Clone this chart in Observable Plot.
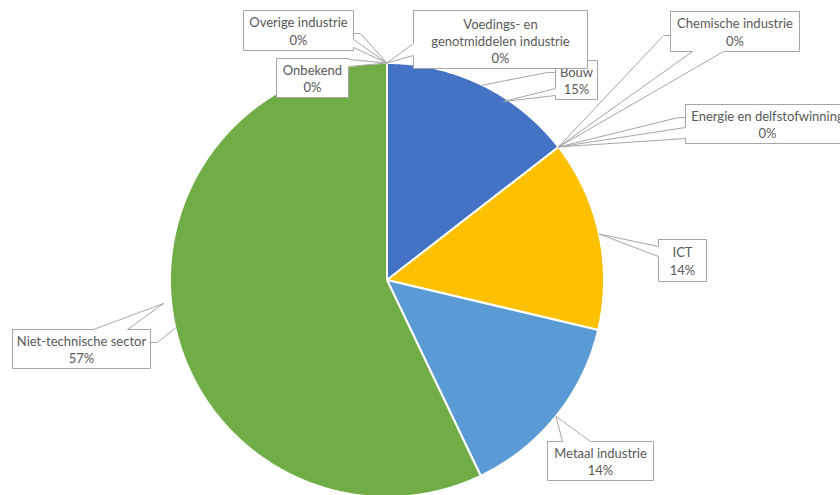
<!DOCTYPE html>
<html>
<head>
<meta charset="utf-8">
<script src="https://cdn.jsdelivr.net/npm/d3@7"></script>
<script src="https://cdn.jsdelivr.net/npm/@observablehq/plot@0.6"></script>
<style>
  html, body { margin: 0; padding: 0; background: #ffffff; }
  #chart { width: 840px; height: 495px; overflow: hidden; }
</style>
</head>
<body>
<div id="chart"></div>
<script>
// ---- data ----
const categories = [
  "Bouw",
  "Chemische industrie",
  "Energie en delfstofwinning",
  "ICT",
  "Metaal industrie",
  "Niet-technische sector",
  "Onbekend",
  "Overige industrie",
  "Voedings- en genotmiddelen industrie"
];
const shares = [14.5, 0, 0, 14.2, 14.2, 57.1, 0, 0, 0];
const labelTexts = [
  "Bouw",
  "Chemische industrie",
  "Energie en delfstofwinning",
  "ICT",
  "Metaal industrie",
  "Niet-technische sector",
  "Onbekend",
  "Overige industrie",
  "Voedings- en\ngenotmiddelen industrie"
];
const sliceColors = ["#4472C4", "#ED7D31", "#A5A5A5", "#FFC000", "#5B9BD5", "#70AD47", "#264478", "#9E480E", "#636363"];

// ---- layout (pixels) ----
const W = 840, H = 495;
const CX = 386.5, CY = 279.5, R = 217;
const FONT = "Lato, 'Liberation Sans', sans-serif";
const GRAY = "#A6A6A6";
// box: [x0, y0, x1, y1]; wedge: side, from, to, optional tip; leader: points after anchor
const layout = {
  "Bouw": {box: [555, 60, 597, 99], wedge: {side: "left", from: 88, to: 95, tip: [503, 101]}, leader: [[547, 72], [555, 72]]},
  "Chemische industrie": {box: [670, 11, 799, 51], wedge: {side: "bottom", from: 692, to: 723}, leader: [[663, 35], [670, 35]]},
  "Energie en delfstofwinning": {box: [685, 104, 850, 143], textX: 767, wedge: {side: "left", from: 127, to: 138}, leader: [[678, 117], [685, 117]]},
  "ICT": {box: [658, 239, 706, 281], wedge: {side: "left", from: 246, to: 256}},
  "Metaal industrie": {box: [547, 441, 653, 480], wedge: {side: "top", from: 562, to: 590}},
  "Niet-technische sector": {box: [12, 329, 150, 368], wedge: {side: "top", from: 93, to: 127, tip: [163, 303]}, leader: [[157, 342], [150, 342]]},
  "Onbekend": {box: [276, 58, 348, 97], wedge: {side: "right", from: 59, to: 66}},
  "Overige industrie": {box: [243, 10, 353, 50], wedge: {side: "right", from: 39, to: 47}, leader: [[360, 33], [353, 33]]},
  "Voedings- en genotmiddelen industrie": {box: [413, 10, 587, 68], textDY: 1, wedge: {side: "left", from: 43, to: 55}}
};

// ---- pie geometry from the shares ----
const total = d3.sum(shares);
const pt = (deg, r = R) => {
  const a = deg * Math.PI / 180;
  return [CX + r * Math.sin(a), CY - r * Math.cos(a)];
};
let cum = 0;
const slices = categories.map((name, i) => {
  const a0 = cum / total * 360;
  cum += shares[i];
  const a1 = cum / total * 360;
  return {name, share: shares[i], a0, a1, mid: (a0 + a1) / 2, color: sliceColors[i], text: labelTexts[i]};
});

// slice outlines: centre, sampled arc, centre
const slicePts = [];
for (const s of slices) {
  if (s.share <= 0) continue;
  const n = Math.max(2, Math.ceil((s.a1 - s.a0) / 0.25));
  slicePts.push({name: s.name, x: CX, y: CY});
  for (let k = 0; k <= n; k++) {
    const [x, y] = pt(s.a0 + (s.a1 - s.a0) * k / n);
    slicePts.push({name: s.name, x, y});
  }
  slicePts.push({name: s.name, x: CX, y: CY});
}

function calloutShape(s) {
  const L = layout[s.name];
  const [x0, y0, x1, y1] = L.box;
  const anchor = pt(s.mid);
  const w = L.wedge;
  const tip = w.tip || anchor;
  const P = [];
  P.push([x0, y0]);
  if (w.side === "top") P.push([w.from, y0], tip, [w.to, y0]);
  P.push([x1, y0]);
  if (w.side === "right") P.push([x1, w.from], tip, [x1, w.to]);
  P.push([x1, y1]);
  if (w.side === "bottom") P.push([w.to, y1], tip, [w.from, y1]);
  P.push([x0, y1]);
  if (w.side === "left") P.push([x0, w.to], tip, [x0, w.from]);
  P.push([x0, y0]);
  return P.map(([x, y]) => ({name: s.name, x, y}));
}

const marks = [];
marks.push(Plot.line(slicePts, {
  x: "x", y: "y", z: "name", fill: "name",
  stroke: "#ffffff", strokeWidth: 2, strokeLinejoin: "miter", curve: "linear"
}));

// leader lines
for (const s of slices) {
  const L = layout[s.name];
  if (!L.leader) continue;
  const pts = [pt(s.mid), ...L.leader].map(([x, y]) => ({x, y}));
  marks.push(Plot.line(pts, {x: "x", y: "y", stroke: GRAY, strokeWidth: 1, curve: "linear", strokeLinejoin: "miter"}));
}

// callout boxes with their labels, in series order
for (const s of slices) {
  const L = layout[s.name];
  const [x0, y0, x1, y1] = L.box;
  marks.push(Plot.line(calloutShape(s), {
    x: "x", y: "y", fill: "#ffffff", stroke: GRAY, strokeWidth: 1, curve: "linear", strokeLinejoin: "miter"
  }));
  marks.push(Plot.text([s], {
    x: () => L.textX ?? (x0 + x1) / 2,
    y: () => (y0 + y1) / 2 + (L.textDY || 0),
    text: d => d.text + "\n" + Math.round(d.share) + "%",
    fill: "#595959", fontSize: 13, lineHeight: 1.33, fontFamily: FONT
  }));
}

const chart = Plot.plot({
  width: W, height: H,
  margin: 0,
  x: {domain: [0, W], range: [0, W], axis: null},
  y: {domain: [0, H], range: [0, H], axis: null},
  color: {domain: categories, range: sliceColors},
  style: {fontFamily: FONT, background: "#ffffff", overflow: "hidden"},
  marks
});
document.getElementById("chart").appendChild(chart);
</script>
</body>
</html>
